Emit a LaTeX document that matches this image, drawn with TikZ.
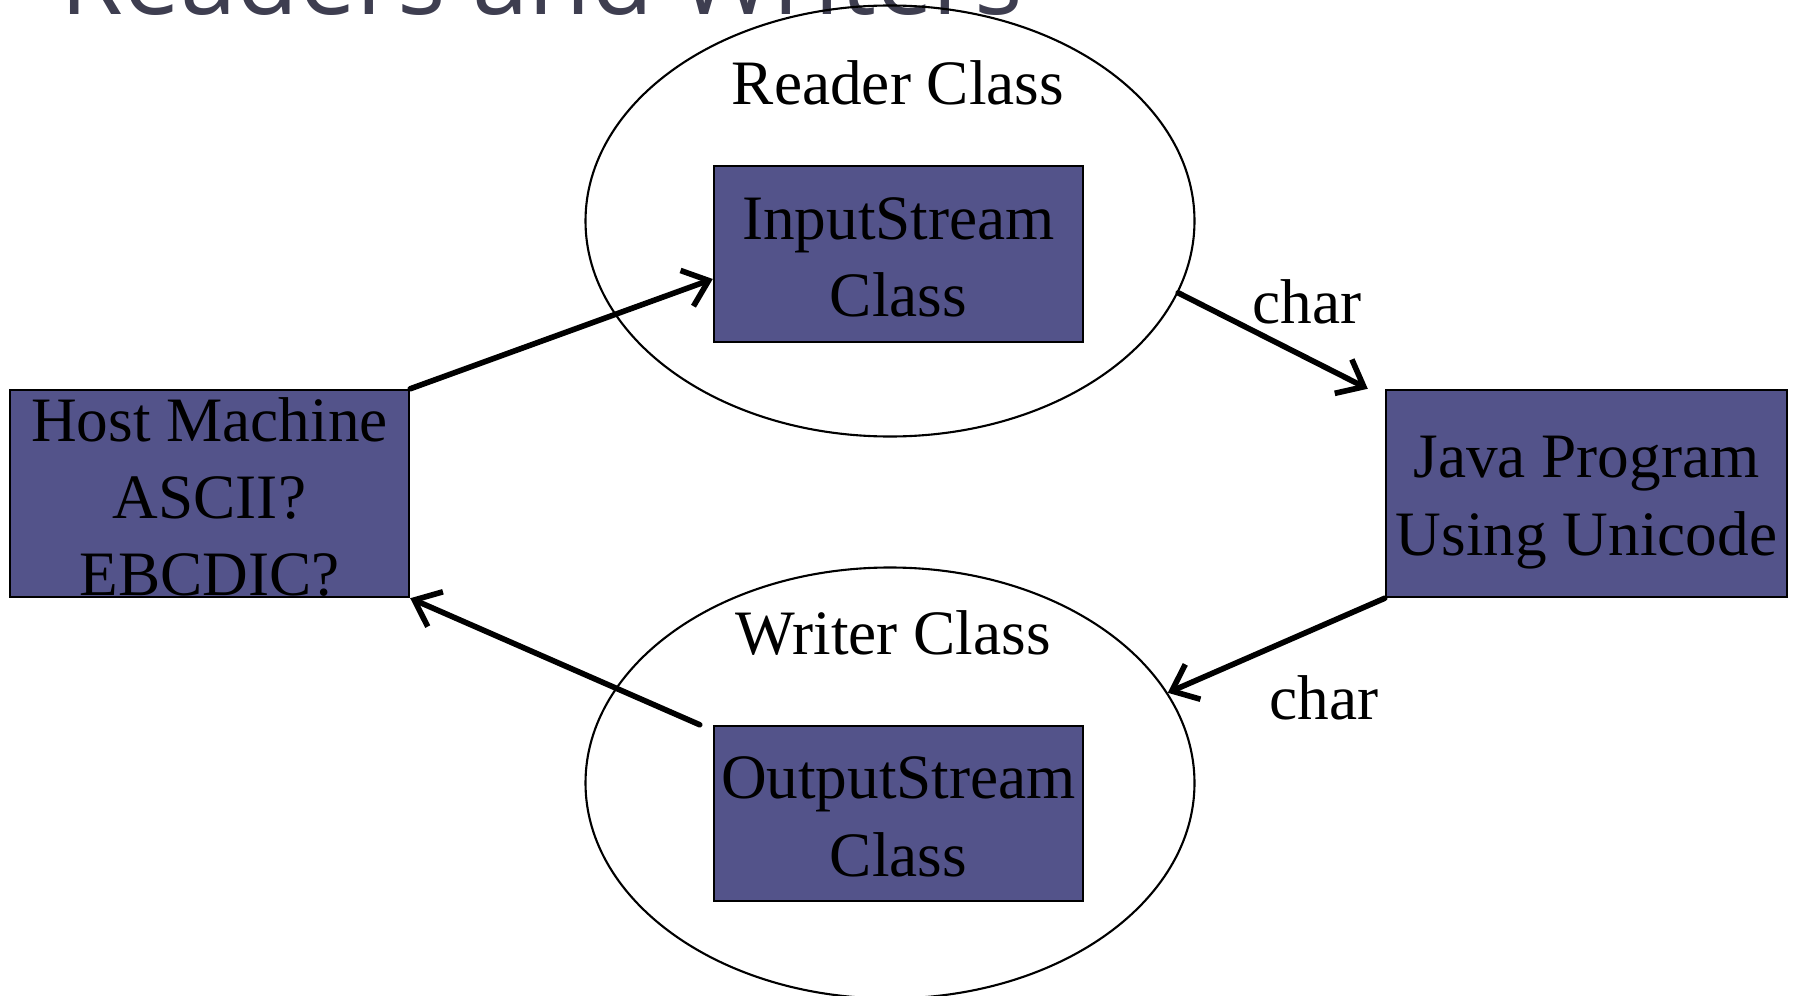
\documentclass[tikz,border=0pt]{standalone}
\usepackage{fontspec}
\setmainfont{Liberation Serif}
\newfontfamily\titlefont{Open Sans}
\usepackage{xcolor}
\usetikzlibrary{positioning,arrows.meta,shapes.geometric,calc}
\definecolor{boxfill}{RGB}{83,83,138}
\definecolor{titlec}{RGB}{62,62,80}
% lower a line of text without changing its box
\newcommand{\lowerln}[2]{\raisebox{-#1}[\height][\depth]{#2}}

\begin{document}
\begin{tikzpicture}[
  classbox/.style = {
    rectangle, draw=black, fill=boxfill, line width=0.7pt,
    align=center, font=\fontsize{18}{22}\selectfont,
    inner sep=0pt
  },
  classoval/.style = {
    ellipse, draw=black, line width=0.6pt,
    minimum width=6.09cm, minimum height=4.31cm, inner sep=0pt
  },
  lbl/.style = {font=\fontsize{18}{22}\selectfont, inner sep=0pt},
  arr/.style = {-{Straight Barb[length=2.3mm,width=3.8mm]},
    line width=1.6pt, line cap=round}
]
\clip (0,0) rectangle (17.98,-9.96);

%% ---------- Title (cut off at the top) ----------
\node[anchor=base west, inner sep=0pt, text=titlec,
      font=\titlefont\fontsize{28.9}{30}\selectfont] (title) at (0.60,-0.15)
    {Readers and Writers};

%% ---------- Reader / Writer ovals ----------
\node[classoval] (reader) at (8.90,-2.21) {};
\node[classoval] (writer) at (8.90,-7.83) {};

\node[lbl] (readerlbl) at (8.98,-0.83) {Reader Class};
\node[lbl] (writerlbl) at (8.93,-6.33) {Writer Class};

%% ---------- Boxes ----------
\node[classbox, minimum width=3.69cm, minimum height=1.76cm] (instream)
    at (8.985,-2.54) {\lowerln{1pt}{InputStream}\\\lowerln{1pt}{Class}};
\node[classbox, minimum width=3.69cm, minimum height=1.75cm] (outstream)
    at (8.985,-8.135) {\lowerln{1pt}{OutputStream}\\\lowerln{1pt}{Class}};
\node[classbox, minimum width=3.99cm, minimum height=2.07cm] (host)
    at (2.095,-4.935) {\lowerln{1pt}{Host Machine}\\\lowerln{1pt}{ASCII?}\\\lowerln{1pt}{EBCDIC?}};
\node[classbox, minimum width=4.01cm, minimum height=2.07cm] (java)
    at (15.865,-4.935) {\lowerln{2.6pt}{Java Program}\\\lowerln{2.6pt}{Using Unicode}};

%% ---------- Arrows ----------
\draw[arr] (host.north east) -- ([yshift=-0.25cm]instream.west);
\draw[arr] (reader.-14) -- ([xshift=-0.17cm]java.north west);
\draw[arr] (java.south west) -- (writer.18);
\draw[arr] ([xshift=-0.13cm]outstream.north west) -- (host.south east);

\node[lbl] (charin)  at (13.07,-3.02) {char};
\node[lbl] (charout) at (13.24,-6.98) {char};

\end{tikzpicture}
\end{document}
